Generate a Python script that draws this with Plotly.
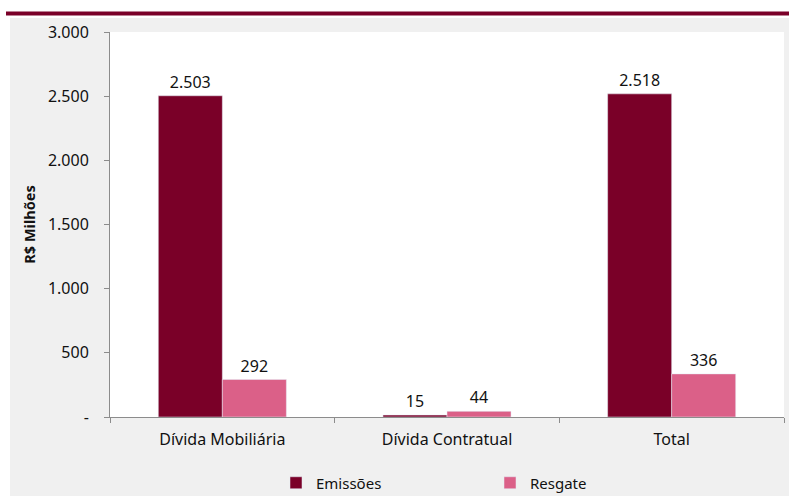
import plotly.graph_objects as go

categories = ["Dívida Mobiliária", "Dívida Contratual", "Total"]
emissoes = [2503, 15, 2518]
resgate = [292, 44, 336]
emissoes_labels = ["2.503", "15", "2.518"]
resgate_labels = ["292", "44", "336"]
y_tickvals = [0, 500, 1000, 1500, 2000, 2500, 3000]
y_ticktext = ["-", "500", "1.000", "1.500", "2.000", "2.500", "3.000"]

FONT = "Noto Sans"
W, H = 789, 496
L, R, T, B = 110, 5, 32, 79
pw, ph = W - L - R, H - T - B

def px(x):
    return (x - L) / pw

def py(y):
    return (H - B - y) / ph

fig = go.Figure()
fig.add_trace(go.Bar(name="Emissões", x=categories, y=emissoes, marker_color="#7a0028",
                     text=emissoes_labels, textposition="outside",
                     textfont=dict(size=16, color="#111111"), cliponaxis=False))
fig.add_trace(go.Bar(name="Resgate", x=categories, y=resgate, marker_color="#db6088",
                     text=resgate_labels, textposition="outside",
                     textfont=dict(size=16, color="#111111"), cliponaxis=False))

fig.update_layout(
    width=W, height=H,
    margin=dict(l=L, r=R, t=T, b=B, autoexpand=False),
    paper_bgcolor="white", plot_bgcolor="white",
    font=dict(family=FONT, size=15, color="#111111"),
    barmode="group", bargap=0.43, bargroupgap=0,
    showlegend=True,
    legend=dict(orientation="h", x=px(276), y=py(483), xanchor="left", yanchor="middle",
                entrywidth=169, entrywidthmode="pixels", bgcolor="rgba(0,0,0,0)",
                font=dict(size=15), traceorder="normal"),
    shapes=[
        dict(type="rect", xref="paper", yref="paper", x0=px(10), x1=px(789), y0=py(496), y1=py(18),
             fillcolor="#f0f0f0", line=dict(width=0), layer="below"),
        dict(type="rect", xref="paper", yref="paper", x0=0, x1=1, y0=0, y1=1,
             fillcolor="white", line=dict(width=0), layer="below"),
        dict(type="line", xref="paper", yref="paper", x0=px(6), x1=px(789), y0=py(13.5), y1=py(13.5),
             line=dict(color="#7a0028", width=4), layer="above"),
    ],
)
fig.update_xaxes(showline=True, linecolor="#8c8c8c", linewidth=1, ticks="outside",
                 tickson="boundaries", ticklen=5, tickcolor="#8c8c8c", showgrid=False,
                 tickfont=dict(size=16), ticklabelstandoff=8)
fig.update_yaxes(range=[0, 3000], tickvals=y_tickvals, ticktext=y_ticktext, showline=True,
                 linecolor="#8c8c8c", linewidth=1, ticks="outside", ticklen=5, tickcolor="#8c8c8c",
                 showgrid=False, zeroline=False, tickfont=dict(size=16), ticklabelstandoff=12,
                 title=dict(text="<b>R$ Milhões</b>", font=dict(size=14.5), standoff=8))

fig.write_html("out.html")
